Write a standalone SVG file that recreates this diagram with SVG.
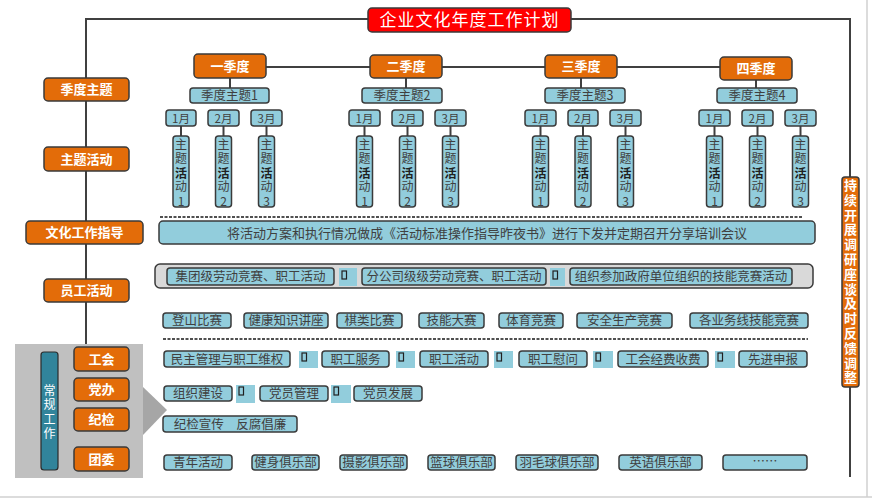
<svg xmlns="http://www.w3.org/2000/svg" width="872" height="498" viewBox="0 0 872 498">
<style>
text{font-family:"Noto Sans CJK SC","Noto Sans",sans-serif;}
.or{fill:#e36c09;stroke:#3a3a3a;stroke-width:1.5;}
.ot{fill:#ffffff;font-size:13px;font-weight:bold;text-anchor:middle;}
.bl{fill:#92cddc;stroke:#3a3a3a;stroke-width:1.5;}
.bt{fill:#404040;font-size:12.5px;text-anchor:middle;}
.mt{fill:#404040;font-size:11.5px;text-anchor:middle;}
.vt{fill:#404040;font-size:12px;writing-mode:vertical-rl;text-orientation:upright;letter-spacing:2.3px;}
.hv{font-weight:bold;fill:#202020;}
.ln{stroke:#404040;stroke-width:2;fill:none;}
.dash{stroke:#505050;stroke-width:2;stroke-dasharray:3,1.5;fill:none;}
.tofu{fill:#92cddc;}
.tg{fill:none;stroke:#202020;stroke-width:1.2;}
</style>
<rect x="0" y="0" width="872" height="498" fill="#ffffff"/>
<line x1="867" y1="0" x2="867" y2="497" stroke="#d0d0d0" stroke-width="1.5"/>
<line x1="0" y1="497" x2="872" y2="497" stroke="#d0d0d0" stroke-width="1.5"/>

<g id="connectors">
<polyline class="ln" points="86,345 86,19 368,19"/>
<polyline class="ln" points="571,19 850,19 850,177"/>
<line class="ln" x1="850" y1="387" x2="850" y2="477"/>
<line class="ln" x1="266" y1="67" x2="370" y2="67"/>
<line class="ln" x1="442" y1="67" x2="545" y2="67"/>
<line class="ln" x1="617" y1="67" x2="720" y2="67"/>
<line class="ln" x1="230" y1="78" x2="230" y2="88"/>
<line class="ln" x1="406" y1="78" x2="406" y2="88"/>
<line class="ln" x1="581" y1="78" x2="581" y2="88"/>
<line class="ln" x1="756" y1="80" x2="756" y2="88"/>
<g class="ln">
<line x1="181" y1="126" x2="181" y2="136"/><line x1="223.5" y1="126" x2="223.5" y2="136"/><line x1="266.5" y1="126" x2="266.5" y2="136"/>
<line x1="364.5" y1="126" x2="364.5" y2="136"/><line x1="407.5" y1="126" x2="407.5" y2="136"/><line x1="450.5" y1="126" x2="450.5" y2="136"/>
<line x1="540.5" y1="126" x2="540.5" y2="136"/><line x1="583" y1="126" x2="583" y2="136"/><line x1="625.5" y1="126" x2="625.5" y2="136"/>
<line x1="714.5" y1="126" x2="714.5" y2="136"/><line x1="757.5" y1="126" x2="757.5" y2="136"/><line x1="800.5" y1="126" x2="800.5" y2="136"/>
</g>
<line class="dash" x1="160" y1="217" x2="803" y2="217"/>
<line class="dash" x1="163" y1="339" x2="808" y2="339"/>
</g>

<g id="title">
<rect x="368" y="8" width="203" height="24" rx="4" fill="#ff0000" stroke="#3a3a3a" stroke-width="1.5"/>
<text x="469.5" y="26" fill="#ffffff" font-size="17" text-anchor="middle" letter-spacing="1">企业文化年度工作计划</text>
</g>

<g id="left-labels">
<g id="l1"><rect class="or" x="44" y="78" width="85" height="23" rx="4"/><text class="ot" x="86.5" y="94">季度主题</text></g>
<g id="l2"><rect class="or" x="44" y="147" width="85" height="24" rx="4"/><text class="ot" x="86.5" y="163.5">主题活动</text></g>
<g id="l3"><rect class="or" x="26" y="221" width="117" height="23" rx="4"/><text class="ot" x="84.5" y="237">文化工作指导</text></g>
<g id="l4"><rect class="or" x="44" y="279" width="85" height="23" rx="4"/><text class="ot" x="86.5" y="295">员工活动</text></g>
</g>

<g id="routine">
<rect x="15" y="344" width="128" height="134" fill="#c0c0c0"/>
<polygon points="143,387 167,410 143,435" fill="#a6a6a6"/>
<rect x="41" y="352" width="17" height="118" rx="3" fill="#31849b" stroke="#2a2a2a" stroke-width="1.2"/>
<text x="49.5" y="384" fill="#ffffff" font-size="12" style="writing-mode:vertical-rl;text-orientation:upright;letter-spacing:2.5px">常规工作</text>
<g id="r1"><rect class="or" x="74" y="347" width="55" height="24" rx="4"/><text class="ot" x="101.5" y="363.5">工会</text></g>
<g id="r2"><rect class="or" x="74" y="378" width="55" height="23" rx="4"/><text class="ot" x="101.5" y="394">党办</text></g>
<g id="r3"><rect class="or" x="74" y="408" width="55" height="23" rx="4"/><text class="ot" x="101.5" y="424">纪检</text></g>
<g id="r4"><rect class="or" x="74" y="447" width="55" height="24" rx="4"/><text class="ot" x="101.5" y="463.5">团委</text></g>
</g>

<g id="quarters">
<g id="q1"><rect class="or" x="194" y="54" width="72" height="24" rx="4"/><text class="ot" x="230" y="70.5">一季度</text></g>
<g id="q2"><rect class="or" x="370" y="55" width="72" height="23" rx="4"/><text class="ot" x="406" y="71">二季度</text></g>
<g id="q3"><rect class="or" x="545" y="55" width="72" height="23" rx="4"/><text class="ot" x="581" y="71">三季度</text></g>
<g id="q4"><rect class="or" x="720" y="57" width="72" height="23" rx="4"/><text class="ot" x="756" y="73">四季度</text></g>
</g>

<g id="themes">
<g id="t1"><rect class="bl" x="190" y="88" width="79" height="15" rx="3"/><text class="bt" x="229.5" y="100">季度主题1</text></g>
<g id="t2"><rect class="bl" x="362" y="88" width="80" height="15" rx="3"/><text class="bt" x="402" y="100">季度主题2</text></g>
<g id="t3"><rect class="bl" x="545" y="88" width="80" height="15" rx="3"/><text class="bt" x="585" y="100">季度主题3</text></g>
<g id="t4"><rect class="bl" x="717" y="88" width="80" height="15" rx="3"/><text class="bt" x="757" y="100">季度主题4</text></g>
</g>

<g id="months">
<g><rect class="bl" x="166" y="110" width="30" height="16" rx="3"/><text class="mt" x="181" y="122.5">1月</text></g>
<g><rect class="bl" x="208" y="110" width="31" height="16" rx="3"/><text class="mt" x="223.5" y="122.5">2月</text></g>
<g><rect class="bl" x="251" y="110" width="31" height="16" rx="3"/><text class="mt" x="266.5" y="122.5">3月</text></g>
<g><rect class="bl" x="349" y="110" width="31" height="16" rx="3"/><text class="mt" x="364.5" y="122.5">1月</text></g>
<g><rect class="bl" x="392" y="110" width="31" height="16" rx="3"/><text class="mt" x="407.5" y="122.5">2月</text></g>
<g><rect class="bl" x="435" y="110" width="31" height="16" rx="3"/><text class="mt" x="450.5" y="122.5">3月</text></g>
<g><rect class="bl" x="525" y="110" width="31" height="16" rx="3"/><text class="mt" x="540.5" y="122.5">1月</text></g>
<g><rect class="bl" x="568" y="110" width="30" height="16" rx="3"/><text class="mt" x="583" y="122.5">2月</text></g>
<g><rect class="bl" x="610" y="110" width="31" height="16" rx="3"/><text class="mt" x="625.5" y="122.5">3月</text></g>
<g><rect class="bl" x="699" y="110" width="31" height="16" rx="3"/><text class="mt" x="714.5" y="122.5">1月</text></g>
<g><rect class="bl" x="742" y="110" width="31" height="16" rx="3"/><text class="mt" x="757.5" y="122.5">2月</text></g>
<g><rect class="bl" x="785" y="110" width="31" height="16" rx="3"/><text class="mt" x="800.5" y="122.5">3月</text></g>
</g>

<g id="activities">
<g id="a11"><rect class="bl" x="173" y="136" width="16" height="71" rx="3"/><text class="vt" x="181" y="138">主题<tspan class="hv">活</tspan>动1</text></g>
<g id="a12"><rect class="bl" x="215.5" y="136" width="16" height="71" rx="3"/><text class="vt" x="223.5" y="138">主题<tspan class="hv">活</tspan>动2</text></g>
<g id="a13"><rect class="bl" x="258.5" y="136" width="16" height="71" rx="3"/><text class="vt" x="266.5" y="138">主题<tspan class="hv">活</tspan>动3</text></g>
<g id="a21"><rect class="bl" x="356.5" y="136" width="16" height="71" rx="3"/><text class="vt" x="364.5" y="138">主题<tspan class="hv">活</tspan>动1</text></g>
<g id="a22"><rect class="bl" x="399.5" y="136" width="16" height="71" rx="3"/><text class="vt" x="407.5" y="138">主题<tspan class="hv">活</tspan>动2</text></g>
<g id="a23"><rect class="bl" x="442.5" y="136" width="16" height="71" rx="3"/><text class="vt" x="450.5" y="138">主题<tspan class="hv">活</tspan>动3</text></g>
<g id="a31"><rect class="bl" x="532.5" y="136" width="16" height="71" rx="3"/><text class="vt" x="540.5" y="138">主题<tspan class="hv">活</tspan>动1</text></g>
<g id="a32"><rect class="bl" x="575" y="136" width="16" height="71" rx="3"/><text class="vt" x="583" y="138">主题<tspan class="hv">活</tspan>动2</text></g>
<g id="a33"><rect class="bl" x="617.5" y="136" width="16" height="71" rx="3"/><text class="vt" x="625.5" y="138">主题<tspan class="hv">活</tspan>动3</text></g>
<g id="a41"><rect class="bl" x="706.5" y="136" width="16" height="71" rx="3"/><text class="vt" x="714.5" y="138">主题<tspan class="hv">活</tspan>动1</text></g>
<g id="a42"><rect class="bl" x="749.5" y="136" width="16" height="71" rx="3"/><text class="vt" x="757.5" y="138">主题<tspan class="hv">活</tspan>动2</text></g>
<g id="a43"><rect class="bl" x="792.5" y="136" width="16" height="71" rx="3"/><text class="vt" x="800.5" y="138">主题<tspan class="hv">活</tspan>动3</text></g>
</g>

<g id="guide">
<rect class="bl" x="159" y="221" width="656" height="23" rx="4"/>
<text x="487" y="237.5" fill="#404040" font-size="13" text-anchor="middle">将活动方案和执行情况做成《活动标准操作指导昨夜书》进行下发并定期召开分享培训会议</text>
</g>

<g id="staff">
<rect x="155" y="264" width="658" height="24" rx="5" fill="#d9d9d9" stroke="#3a3a3a" stroke-width="1.5"/>
<g><rect class="bl" x="167" y="268" width="167" height="17" rx="3"/><text class="bt" x="250.5" y="281">集团级劳动竞赛、职工活动</text></g>
<g><rect class="tofu" x="339" y="268" width="18" height="18"/><rect class="tg" x="342" y="271" width="4.5" height="8"/></g>
<g><rect class="bl" x="362" y="268" width="184" height="17" rx="3"/><text class="bt" x="454" y="281">分公司级级劳动竞赛、职工活动</text></g>
<g><rect class="tofu" x="550" y="268" width="15" height="18"/><rect class="tg" x="553" y="271" width="4.5" height="8"/></g>
<g><rect class="bl" x="570" y="268" width="222" height="17" rx="3"/><text class="bt" x="681" y="281">组织参加政府单位组织的技能竞赛活动</text></g>
</g>

<g id="competitions">
<g><rect class="bl" x="163" y="313" width="68" height="15" rx="3"/><text class="bt" x="197" y="325">登山比赛</text></g>
<g><rect class="bl" x="244" y="313" width="84" height="15" rx="3"/><text class="bt" x="286" y="325">健康知识讲座</text></g>
<g><rect class="bl" x="337" y="313" width="65" height="15" rx="3"/><text class="bt" x="369.5" y="325">棋类比赛</text></g>
<g><rect class="bl" x="419" y="313" width="65" height="15" rx="3"/><text class="bt" x="451.5" y="325">技能大赛</text></g>
<g><rect class="bl" x="499" y="313" width="64" height="15" rx="3"/><text class="bt" x="531" y="325">体育竞赛</text></g>
<g><rect class="bl" x="577" y="313" width="95" height="15" rx="3"/><text class="bt" x="624.5" y="325">安全生产竞赛</text></g>
<g><rect class="bl" x="690" y="313" width="118" height="15" rx="3"/><text class="bt" x="749" y="325">各业务线技能竞赛</text></g>
</g>

<g id="union-row">
<g><rect class="bl" x="164" y="351" width="126" height="16" rx="3"/><text class="bt" x="227" y="363.5">民主管理与职工维权</text></g>
<g><rect class="tofu" x="299" y="351" width="19" height="17"/><rect class="tg" x="302" y="353" width="4.5" height="8"/></g>
<g><rect class="bl" x="322" y="351" width="67" height="16" rx="3"/><text class="bt" x="355.5" y="363.5">职工服务</text></g>
<g><rect class="tofu" x="396" y="351" width="19" height="17"/><rect class="tg" x="399" y="353" width="4.5" height="8"/></g>
<g><rect class="bl" x="420" y="351" width="68" height="16" rx="3"/><text class="bt" x="454" y="363.5">职工活动</text></g>
<g><rect class="tofu" x="494" y="351" width="19" height="17"/><rect class="tg" x="497" y="353" width="4.5" height="8"/></g>
<g><rect class="bl" x="519" y="351" width="68" height="16" rx="3"/><text class="bt" x="553" y="363.5">职工慰问</text></g>
<g><rect class="tofu" x="593" y="351" width="20" height="17"/><rect class="tg" x="596" y="353" width="4.5" height="8"/></g>
<g><rect class="bl" x="618" y="351" width="90" height="16" rx="3"/><text class="bt" x="663" y="363.5">工会经费收费</text></g>
<g><rect class="tofu" x="715" y="351" width="20" height="17"/><rect class="tg" x="718" y="353" width="4.5" height="8"/></g>
<g><rect class="bl" x="739" y="351" width="68" height="16" rx="3"/><text class="bt" x="773" y="363.5">先进申报</text></g>
</g>

<g id="party-row">
<g><rect class="bl" x="164" y="386" width="68" height="15" rx="3"/><text class="bt" x="198" y="398">组织建设</text></g>
<g><rect class="tofu" x="236" y="385" width="19" height="18"/><rect class="tg" x="239" y="387" width="4.5" height="8"/></g>
<g><rect class="bl" x="260" y="386" width="68" height="15" rx="3"/><text class="bt" x="294" y="398">党员管理</text></g>
<g><rect class="tofu" x="331" y="385" width="20" height="18"/><rect class="tg" x="334" y="387" width="4.5" height="8"/></g>
<g><rect class="bl" x="354" y="386" width="68" height="15" rx="3"/><text class="bt" x="388" y="398">党员发展</text></g>
</g>

<g id="discipline-row">
<g><rect class="bl" x="163" y="416" width="134" height="16" rx="3"/><text class="bt" x="230" y="428.5">纪检宣传　反腐倡廉</text></g>
</g>

<g id="youth-row">
<g><rect class="bl" x="164" y="455" width="68" height="15" rx="3"/><text class="bt" x="198" y="467">青年活动</text></g>
<g><rect class="bl" x="252" y="455" width="67" height="15" rx="3"/><text class="bt" x="285.5" y="467">健身俱乐部</text></g>
<g><rect class="bl" x="340" y="455" width="67" height="15" rx="3"/><text class="bt" x="373.5" y="467">摄影俱乐部</text></g>
<g><rect class="bl" x="428" y="455" width="67" height="15" rx="3"/><text class="bt" x="461.5" y="467">篮球俱乐部</text></g>
<g><rect class="bl" x="516" y="455" width="82" height="15" rx="3"/><text class="bt" x="557" y="467">羽毛球俱乐部</text></g>
<g><rect class="bl" x="619" y="455" width="83" height="15" rx="3"/><text class="bt" x="660.5" y="467">英语俱乐部</text></g>
<g><rect class="bl" x="723" y="455" width="84" height="15" rx="3"/><text class="bt" x="765" y="466">……</text></g>
</g>

<g id="feedback">
<rect class="or" x="842" y="177" width="17" height="210" rx="3"/>
<text x="850.5" y="178.5" fill="#ffffff" font-size="13" font-weight="bold" style="writing-mode:vertical-rl;text-orientation:upright;letter-spacing:1.8px">持续开展调研座谈及时反馈调整</text>
</g>
</svg>
